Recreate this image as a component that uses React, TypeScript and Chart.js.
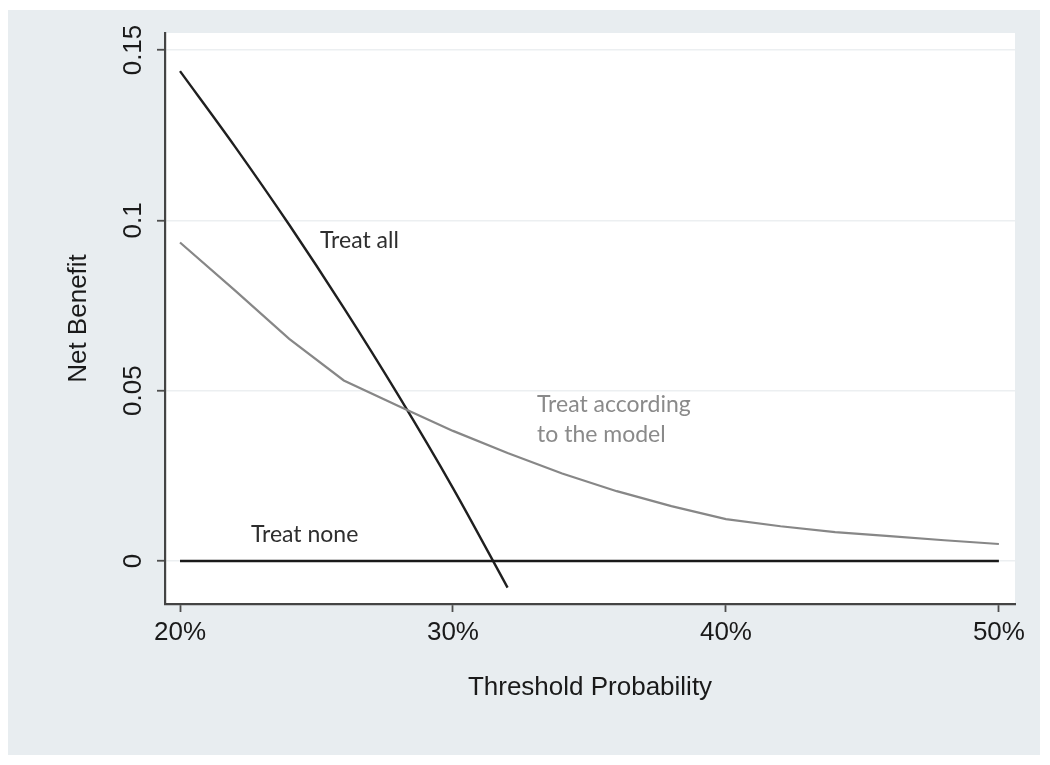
import React, { useEffect, useRef } from 'react';
import { Chart, registerables } from 'chart.js';

Chart.register(...registerables);

// Axis ticks
const thresholdTicks = [20, 30, 40, 50];
const thresholdTickLabels = ['20%', '30%', '40%', '50%'];
const netBenefitTicks = [0, 0.05, 0.1, 0.15];
const netBenefitTickLabels = ['0', '0.05', '0.1', '0.15'];

// Series: Treat all
const treatAllX = [20, 22, 24, 26, 28, 30, 32];
const treatAllY = [0.1438, 0.1218, 0.0987, 0.0743, 0.0486, 0.0214, -0.0078];

// Series: Treat according to the model
const modelX = [20, 22, 24, 26, 28, 30, 32, 34, 36, 38, 40, 42, 44, 46, 48, 50];
const modelY = [0.0935, 0.0795, 0.0652, 0.0530, 0.0455, 0.0382, 0.0317, 0.0257, 0.0205, 0.0161, 0.0123, 0.0102, 0.0085, 0.0073, 0.0061, 0.0050];

// Series: Treat none
const treatNoneX = [20, 50];
const treatNoneY = [0, 0];

// In-plot labels
const noteTexts = ['Treat all', 'Treat according', 'to the model', 'Treat none'];
const noteX = [25.13, 33.08, 33.08, 22.6];
const noteY = [0.0918, 0.0438, 0.035, 0.0056];
const noteColors = ['#2e2e2e', '#8a8a8a', '#8a8a8a', '#2e2e2e'];

const toPoints = (xs: number[], ys: number[]) => xs.map((x, i) => ({ x, y: ys[i] }));

export default function App() {
  const ref = useRef<HTMLCanvasElement>(null);

  useEffect(() => {
    if (!ref.current) return;
    const axisFont = { family: '"Liberation Sans", Arial, Helvetica, sans-serif', size: 26 };

    const bgPlugin = {
      id: 'plotBg',
      beforeDraw(chart: any) {
        const { ctx, chartArea: a } = chart;
        ctx.save();
        ctx.fillStyle = '#ffffff';
        ctx.fillRect(a.left, a.top, a.right - a.left, a.bottom - a.top);
        ctx.restore();
      },
    };

    const notesPlugin = {
      id: 'notes',
      afterDatasetsDraw(chart: any) {
        const { ctx } = chart;
        const xs = chart.scales.x;
        const ys = chart.scales.y;
        ctx.save();
        ctx.font = '23px Lato, "Open Sans", sans-serif';
        ctx.textAlign = 'left';
        ctx.textBaseline = 'alphabetic';
        noteTexts.forEach((t, i) => {
          ctx.fillStyle = noteColors[i];
          ctx.fillText(t, xs.getPixelForValue(noteX[i]), ys.getPixelForValue(noteY[i]));
        });
        ctx.restore();
      },
    };

    const chart = new Chart(ref.current, {
      type: 'line',
      data: {
        datasets: [
          {
            label: 'Treat according to the model',
            data: toPoints(modelX, modelY),
            borderColor: '#878787',
            borderWidth: 2.2,
            pointRadius: 0,
            tension: 0,
          },
          {
            label: 'Treat none',
            data: toPoints(treatNoneX, treatNoneY),
            borderColor: '#1a1a1a',
            borderWidth: 2.6,
            pointRadius: 0,
          },
          {
            label: 'Treat all',
            data: toPoints(treatAllX, treatAllY),
            borderColor: '#1f1f1f',
            borderWidth: 2.4,
            pointRadius: 0,
            cubicInterpolationMode: 'monotone',
          },
        ],
      },
      options: {
        animation: false,
        responsive: false,
        devicePixelRatio: 1,
        layout: { padding: { top: 23, right: 25, left: 0, bottom: 0 } },
        plugins: {
          legend: { display: false },
          tooltip: { enabled: false },
        },
        scales: {
          x: {
            type: 'linear',
            min: 19.45,
            max: 50.59,
            afterBuildTicks: (s: any) => {
              s.ticks = thresholdTicks.map((v) => ({ value: v }));
            },
            afterFit: (s: any) => {
              s.height = 153;
            },
            ticks: {
              autoSkip: false,
              maxRotation: 0,
              padding: 5,
              color: '#1a1a1a',
              font: axisFont,
              callback: (_v: any, i: number) => thresholdTickLabels[i],
            },
            grid: {
              drawOnChartArea: false,
              drawTicks: true,
              tickLength: 8,
              tickColor: '#4d4d4d',
              tickWidth: 1.8,
            },
            border: { display: true, color: '#444444', width: 2.2 },
            title: {
              display: true,
              text: 'Threshold Probability',
              color: '#1a1a1a',
              font: axisFont,
              padding: { top: 0, bottom: 54 },
            },
          },
          y: {
            type: 'linear',
            min: -0.01262,
            max: 0.155,
            afterBuildTicks: (s: any) => {
              s.ticks = netBenefitTicks.map((v) => ({ value: v }));
            },
            afterFit: (s: any) => {
              s.width = 157;
            },
            ticks: {
              autoSkip: false,
              minRotation: 90,
              maxRotation: 90,
              crossAlign: 'center',
              padding: -2,
              color: '#1a1a1a',
              font: axisFont,
              callback: (_v: any, i: number) => netBenefitTickLabels[i],
            },
            grid: {
              color: '#eceff1',
              lineWidth: 1.5,
              drawTicks: true,
              tickLength: 8,
              tickColor: '#4d4d4d',
              tickWidth: 1.8,
            },
            border: { display: true, color: '#444444', width: 2.2 },
            title: {
              display: true,
              text: 'Net Benefit',
              color: '#1a1a1a',
              font: axisFont,
              padding: { top: 55, bottom: 0 },
            },
          },
        },
      },
      plugins: [bgPlugin, notesPlugin],
    } as any);

    return () => chart.destroy();
  }, []);

  return (
    <div style={{ position: 'relative', top: 2, width: 1032, height: 747, background: '#e8edf0' }}>
      <canvas ref={ref} width={1032} height={747} style={{ display: 'block', width: 1032, height: 747 }} />
    </div>
  );
}
